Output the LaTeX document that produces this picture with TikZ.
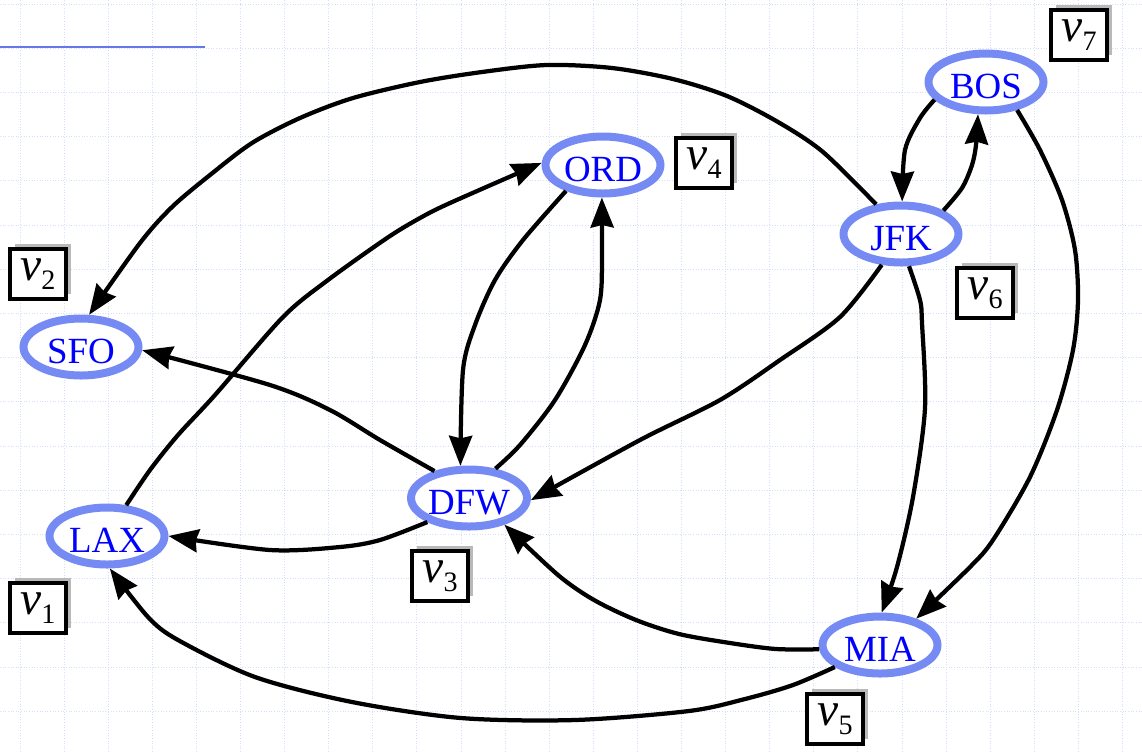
\documentclass[tikz,border=0pt]{standalone}
\usepackage{fontspec}
\setmainfont{Liberation Serif}
\usepackage{xcolor}
\usetikzlibrary{arrows.meta,shapes.geometric,shadows}

\definecolor{ringblue}{RGB}{118,138,243}
\definecolor{textblue}{RGB}{0,0,255}
\definecolor{gridblue}{RGB}{212,222,250}
\definecolor{barblue}{RGB}{100,120,235}

\newcommand{\vlab}[1]{{\fontsize{27}{27}\selectfont\itshape v}\raisebox{-5pt}{\fontsize{16}{16}\selectfont #1}}

\begin{document}
\begin{tikzpicture}[x=0.02cm,y=-0.02cm,
  airport/.style={ellipse, draw=ringblue, line width=0.16cm, fill=white,
    minimum width=2.3cm, minimum height=1.14cm, inner sep=0pt,
    text height=0.66cm, text depth=0pt, text=textblue,
    font=\fontsize{21}{21}\selectfont},
  vbox/.style={draw, line width=0.09cm, fill=white,
    minimum width=1.12cm, minimum height=1.0cm, inner sep=0pt,
    drop shadow={shadow xshift=0.1cm, shadow yshift=0.1cm, fill=gray!55, opacity=1}},
  edge/.style={line width=0.085cm, -{Stealth[length=0.6cm,width=0.46cm,inset=0.05cm]}},
  grid/.style={gridblue, line width=0.5pt, densely dotted}]
\def\W{1142}
\def\H{752}

\useasboundingbox (0,0) rectangle (\W,\H);

% background grid
\foreach \k in {0,...,25}
  \draw[grid] ({20+44.1*\k},0) -- ({20+44.1*\k},\H);
\foreach \k in {0,...,16}
  \draw[grid] (0,{4+44.2*\k}) -- (\W,{4+44.2*\k});
\draw[barblue, line width=0.04cm] (0,47) -- (205,47);

% airports
\node[airport] (bos) at (986,82)  {BOS};
\node[airport] (ord) at (603,165) {ORD};
\node[airport] (jfk) at (901,234) {JFK};
\node[airport] (sfo) at (81,347)  {SFO};
\node[airport] (dfw) at (469,498) {DFW};
\node[airport] (lax) at (107,536) {LAX};
\node[airport] (mia) at (880,645) {MIA};

% vertex labels
\node[vbox] (v1) at (38,608)   {\vlab{1}};
\node[vbox] (v2) at (38,274)   {\vlab{2}};
\node[vbox] (v3) at (440,576)  {\vlab{3}};
\node[vbox] (v4) at (704,163)  {\vlab{4}};
\node[vbox] (v5) at (835,719)  {\vlab{5}};
\node[vbox] (v6) at (985,293)  {\vlab{6}};
\node[vbox] (v7) at (1079,35)  {\vlab{7}};

% flights
\draw[edge] plot[smooth] coordinates {(jfk.130) (823,152) (778,122) (727,96) (673,79)
  (612,68) (547,65) (482,72) (420,82) (353,98) (300,118) (252,143) (210,175) (172,207)
  (140,243) (sfo.76)};
\draw[edge] plot[smooth] coordinates {(lax.58) (150,470) (178,435) (215,395) (283,317)
  (328,280) (387,238) (420,218) (450,203) (ord.178)};
\draw[edge] plot[smooth] coordinates {(ord.215) (523,240) (495,280) (475,325) (463,370) (dfw.105)};
\draw[edge] plot[smooth] coordinates {(dfw.48) (520,445) (555,400) (585,345) (600,300) (602,255) (ord.268)};
\draw[edge] plot[smooth] coordinates {(dfw.142) (380,440) (330,410) (270,385) (sfo.-3)};
\draw[edge] plot[smooth] coordinates {(dfw.210) (380,540) (340,547) (270,550) (lax.0)};
\draw[edge] plot[smooth] coordinates {(jfk.238) (840,317) (780,360) (720,400) (640,440) (dfw.-2)};
\draw[edge] plot[smooth] coordinates {(mia.184) (776,649) (730,643) (679,634) (636,620)
  (594,600) (558,575) (dfw.-37)};
\draw[edge] plot[smooth] coordinates {(mia.206) (793,685) (745,699) (689,711) (575,720)
  (461,718) (352,702) (255,677) (178,640) (148,617) (lax.-85)};
\draw[edge] plot[smooth] coordinates {(jfk.-76) (920,300) (922,323) (925,408) (913,497) (897,567) (mia.87)};
\draw[edge] plot[smooth] coordinates {(bos.199) (920,118) (905,150) (jfk.88)};
\draw[edge] plot[smooth] coordinates {(jfk.29) (962,188) (972,165) (976,145) (bos.256)};
\draw[edge] plot[smooth] coordinates {(bos.-42) (1040,150) (1062,200) (1075,250) (1078,300)
  (1073,350) (1057,410) (1030,477) (993,540) (970,567) (mia.36)};
\end{tikzpicture}
\end{document}
